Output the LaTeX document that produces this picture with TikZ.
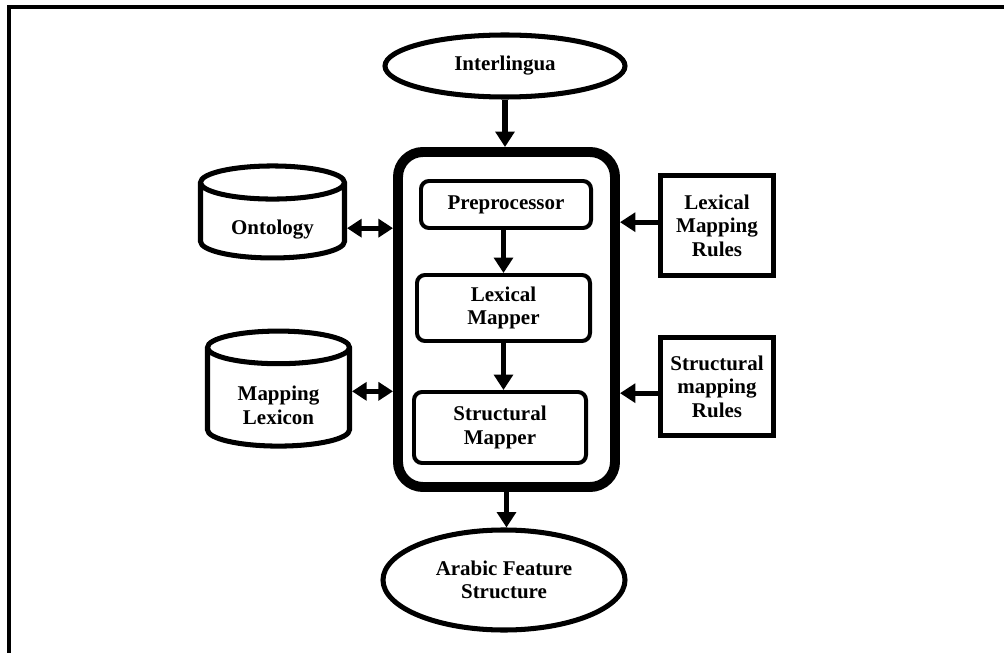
\documentclass[tikz,border=0pt]{standalone}
\usepackage{fontspec}
\setmainfont{Liberation Serif}
\usetikzlibrary{shapes.geometric,arrows.meta}

% text in a cylinder sits a little below its middle
\newcommand{\lowtext}[2]{\raisebox{-#1}[\height][\depth]{\begin{tabular}{@{}c@{}}#2\end{tabular}}}

\tikzset{
  every node/.style={font=\fontsize{17.9}{20}\selectfont\bfseries, align=center, inner sep=0pt},
  term/.style={draw, ellipse, line width=4.3pt},
  store/.style={draw, cylinder, shape border rotate=90, aspect=0.4, line width=4.3pt},
  rules/.style={draw, rectangle, line width=4.3pt},
  stage/.style={draw, rectangle, rounded corners=0.24cm, line width=3.4pt},
  flow/.style={line width=4.3pt, -{Triangle[length=0.46cm,width=0.56cm]}},
  twoway/.style={line width=4.3pt, {Triangle[length=0.44cm,width=0.54cm]}-{Triangle[length=0.44cm,width=0.54cm]}},
}

\begin{document}
\begin{tikzpicture}[x=0.03cm,y=-0.03cm]
    \useasboundingbox (0,0) rectangle (1004,653);
    % frame
    \draw[line width=3.4pt] (9,653) -- (9,7) -- (1004,7);

    % generator
    \node[draw, rectangle, rounded corners=0.75cm, line width=8.5pt,
          minimum width=6.51cm, minimum height=10.05cm] (core) at (506.5,319.5) {};
    \node[stage, minimum width=5.1cm, minimum height=1.41cm] (prep) at (506,204.5) {Preprocessor};
    \node[stage, minimum width=5.19cm, minimum height=1.98cm] (lexmap) at (503.5,308) {Lexical\\Mapper};
    \node[stage, minimum width=5.16cm, minimum height=2.13cm] (strmap) at (500,427.5) {Structural\\Mapper};

    % input and output
    \node[term, minimum width=7.2cm, minimum height=1.86cm] (interl) at (505,66) {Interlingua};
    \node[term, minimum width=7.26cm, minimum height=3.0cm] (arabic) at (504,580) {Arabic Feature\\Structure};

    % resources
    \node[store, minimum width=4.32cm, minimum height=2.76cm] (onto) at (272.5,221.5) {\lowtext{0.26cm}{Ontology}};
    \node[store, minimum width=4.26cm, minimum height=3.45cm] (lexicon) at (278.5,398) {\lowtext{0.3cm}{Mapping\\Lexicon}};
    \node[rules, minimum width=3.39cm, minimum height=3.0cm] (lexrules) at (717,225.5) {Lexical\\Mapping\\Rules};
    \node[rules, minimum width=3.39cm, minimum height=2.94cm] (strrules) at (717,386.5) {Structural\\mapping\\Rules};

    \draw[flow] (interl) -- (interl |- core.north);
    \draw[flow] (lexmap.north |- prep.south) -- (lexmap.north);
    \draw[flow] (lexmap.south) -- (lexmap.south |- strmap.north);
    \draw[flow] (core.south) -- (core.south |- arabic.north);
    \draw[twoway] ([yshift=-0.2cm]onto.east) -- ([yshift=-0.2cm]onto.east -| core.west);
    \draw[twoway] ([yshift=0.2cm]lexicon.east) -- ([yshift=0.2cm]lexicon.east -| core.west);
    \draw[flow] ([yshift=0.1cm]lexrules.west) -- ([yshift=0.1cm]lexrules.west -| core.east);
    \draw[flow] ([yshift=-0.2cm]strrules.west) -- ([yshift=-0.2cm]strrules.west -| core.east);
\end{tikzpicture}
\end{document}
